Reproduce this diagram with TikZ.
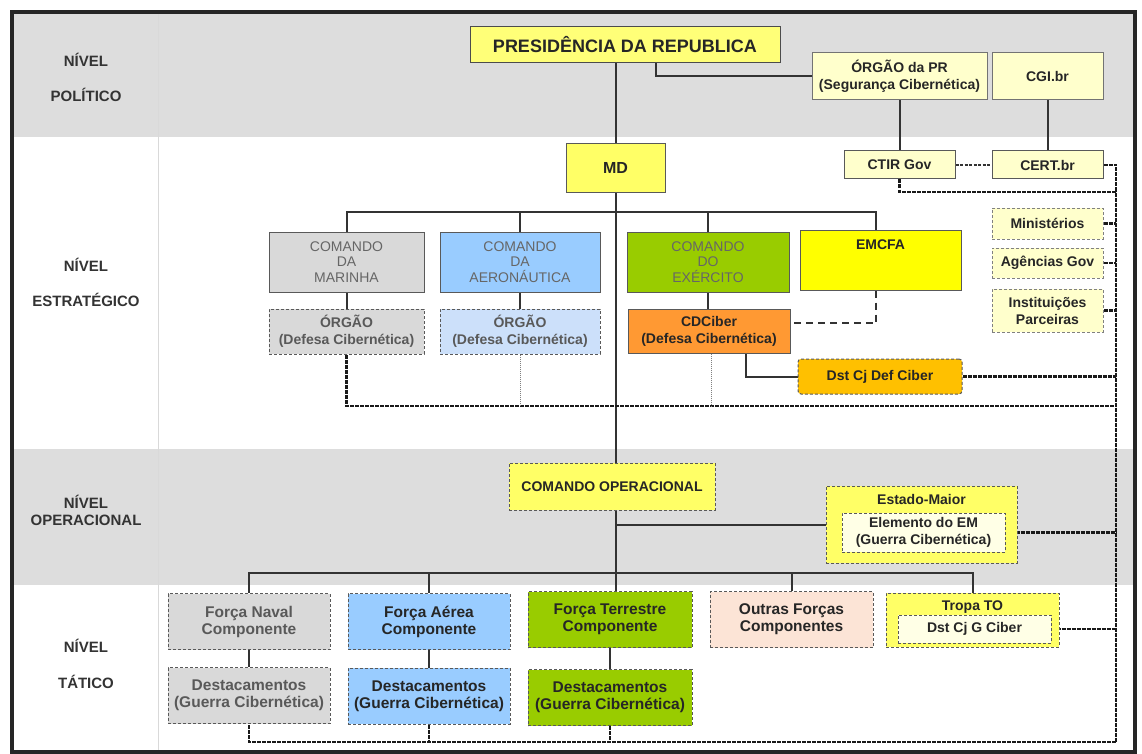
\documentclass[tikz,border=0pt]{standalone}
\usepackage{fontspec}
\setmainfont{Liberation Sans}
\usetikzlibrary{positioning, calc}
\pgfdeclarelayer{bg}
\pgfsetlayers{bg,main}

\definecolor{bandgray}{RGB}{221,221,221}
\definecolor{pryellow}{RGB}{255,255,120}
\definecolor{cream}{RGB}{255,255,204}
\definecolor{mdyellow}{RGB}{255,255,102}
\definecolor{marinha}{RGB}{217,217,217}
\definecolor{aero}{RGB}{153,204,255}
\definecolor{aerolight}{RGB}{204,224,250}
\definecolor{exercito}{RGB}{153,204,0}
\definecolor{emyellow}{RGB}{255,255,0}
\definecolor{ciberorange}{RGB}{255,153,51}
\definecolor{dstorange}{RGB}{255,192,0}
\definecolor{peach}{RGB}{252,228,214}
\definecolor{lightcream}{RGB}{255,255,230}

\newcommand{\boxfont}{\bfseries\fontsize{14}{17}\selectfont}

\begin{document}
\begin{tikzpicture}[x=1pt, y=-1pt,
    box/.style={draw=black!65, line width=1pt, inner sep=1pt, align=center, text=black!85, font=\boxfont},
    dbox/.style={box, dash pattern=on 3pt off 2pt},
    cmd/.style={box, font=\fontsize{14}{15.5}\selectfont, text=black!60, minimum height=60},
    tac/.style={dbox, minimum width=162, minimum height=56, font=\bfseries\fontsize{15.5}{17}\selectfont},
    toplabel/.style={font=\boxfont, text=black!85, anchor=north, inner sep=3pt},
    lvl/.style={font=\bfseries\fontsize{15}{17}\selectfont, text=black!80, align=center},
    link/.style={draw=black!80, line width=2pt},
    net/.style={draw=black!90, line width=2.2pt, dash pattern=on 4pt off 1pt},
    thinnet/.style={draw=black!50, line width=1pt, densely dotted},
    shortdash/.style={draw=black!80, line width=2pt, dash pattern=on 3pt off 1.5pt},
    coorddash/.style={draw=black!80, line width=2.2pt, dash pattern=on 7pt off 5pt}
]
    \useasboundingbox (0,0) rectangle (1142,754);

    % level labels
    \node[lvl] (lpol) at (86,77) {NÍVEL\\[18pt]POLÍTICO};
    \node[lvl] (lest) at (86,282) {NÍVEL\\[18pt]ESTRATÉGICO};
    \node[lvl] (lope) at (86,510) {NÍVEL\\OPERACIONAL};
    \node[lvl] (ltat) at (86,664) {NÍVEL\\[19pt]TÁTICO};

    % nivel politico
    \node[box, fill=pryellow, draw=black!70, minimum width=310, minimum height=36,
          font=\bfseries\fontsize{18}{20}\selectfont] (pr) at (625,45) {PRESIDÊNCIA DA REPUBLICA};
    \node[box, fill=cream, draw=black!55, minimum width=175, minimum height=47] (orgpr) at (899.5,76.5)
        {ÓRGÃO da PR\\(Segurança Cibernética)};
    \node[box, fill=cream, draw=black!55, minimum width=111, minimum height=47] (cgi) at (1047.5,76.5) {CGI.br};

    % nivel estrategico
    \node[box, fill=mdyellow, minimum width=99, minimum height=48,
          font=\bfseries\fontsize{16}{18}\selectfont] (md) at (615.5,168) {MD};
    \node[box, fill=cream, minimum width=111, minimum height=28] (ctir) at (899.5,165) {CTIR Gov};
    \node[box, fill=cream, minimum width=111, minimum height=28] (cert) at (1047.5,165) {CERT.br};
    \node[dbox, fill=cream, draw=black!50, minimum width=111, minimum height=31] (min) at (1047.5,223.5) {Ministérios};
    \node[dbox, fill=cream, draw=black!50, minimum width=111, minimum height=30] (agen) at (1047.5,263) {Agências Gov};
    \node[dbox, fill=cream, draw=black!50, minimum width=111, minimum height=43] (inst) at (1047.5,310.5)
        {Instituições\\Parceiras};

    \node[cmd, fill=marinha, minimum width=155] (mar) at (346.5,262) {COMANDO\\DA\\MARINHA};
    \node[cmd, fill=aero, minimum width=160] (aer) at (520,262) {COMANDO\\DA\\AERONÁUTICA};
    \node[cmd, fill=exercito, minimum width=162] (exe) at (708,262) {COMANDO\\DO\\EXÉRCITO};
    \node[box, fill=emyellow, minimum width=161, minimum height=60,
          label={[toplabel, yshift=-7pt]north:EMCFA}] (emcfa) at (880.5,260) {};

    \node[dbox, fill=marinha, text=black!65, minimum width=155, minimum height=45] (orgmar) at (346.5,331.5)
        {ÓRGÃO\\(Defesa Cibernética)};
    \node[dbox, fill=aerolight, text=black!65, minimum width=160, minimum height=45] (orgaer) at (520,331.5)
        {ÓRGÃO\\(Defesa Cibernética)};
    \node[box, fill=ciberorange, minimum width=162, minimum height=44] (cdciber) at (709,331)
        {CDCiber\\(Defesa Cibernética)};
    \node[dbox, fill=dstorange, rounded corners=3pt, minimum width=164, minimum height=35] (dstdef) at (880,376.5)
        {Dst Cj Def Ciber};

    % nivel operacional
    \node[dbox, fill=mdyellow, minimum width=206, minimum height=47] (coop) at (612,486.5) {COMANDO OPERACIONAL};
    \node[dbox, fill=mdyellow, minimum width=191, minimum height=77,
          label={[toplabel, yshift=-6pt]north:Estado-Maior}] (em) at (921.5,524.5) {};
    \node[dbox, fill=lightcream, minimum width=163, minimum height=39] (elem) at (923.5,532.5)
        {Elemento do EM\\(Guerra Cibernética)};

    % nivel tatico
    \node[tac, fill=marinha, text=black!65] (naval) at (249,621.5) {Força Naval\\Componente};
    \node[tac, fill=aero] (aerea) at (429,621.5) {Força Aérea\\Componente};
    \node[tac, fill=exercito, minimum width=164] (terr) at (610,619.5) {Força Terrestre\\Componente};
    \node[tac, fill=peach, minimum width=163] (outras) at (791.5,619.5) {Outras Forças\\Componentes};
    \node[dbox, fill=mdyellow, minimum width=173, minimum height=54,
          label={[toplabel, yshift=-5pt]north:Tropa TO}] (tropa) at (972.5,620) {};
    \node[dbox, fill=lightcream, minimum width=153, minimum height=28] (dstg) at (974.5,629) {Dst Cj G Ciber};

    \node[tac, fill=marinha, text=black!65] (dnav) at (249,695.5) {Destacamentos\\(Guerra Cibernética)};
    \node[tac, fill=aero] (daer) at (429,696) {Destacamentos\\(Guerra Cibernética)};
    \node[tac, fill=exercito, minimum width=164] (dter) at (610,697.5) {Destacamentos\\(Guerra Cibernética)};

    \coordinate (sb) at (0,212);
    \coordinate (sdb) at (0,406);
    \coordinate (tb) at (0,573);
    \coordinate (emx) at (876,0);
    \coordinate (rtop) at (1116,165);
    \coordinate (rbot) at (1116,742);
    \coordinate (ctirbus) at (1116,192);

    \begin{pgfonlayer}{bg}
        % bands and frame
        \fill[bandgray] (13,13) rectangle (1134,137);
        \fill[bandgray] (13,449) rectangle (1134,585);
        \draw[black!15, line width=1pt] (158,13) -- (158,751);

        % solid hierarchy
        \draw[link] (pr.south -| md) -- (coop.north -| md);
        \draw[link] (coop.south -| md) -- (terr.north -| md);
        \draw[link] ([xshift=31pt]pr.south) |- (orgpr.west);
        \draw[link] (orgpr.south) -- (ctir.north);
        \draw[link] (cgi.south) -- (cert.north);
        \draw[link] (mar.north) |- (emx |- sb) -- (emx |- emcfa.north);
        \foreach \n in {aer, exe}
            \draw[link] (\n.north) -- (\n.north |- sb);
        \draw[link] (mar.south) -- (orgmar.north);
        \draw[link] (aer.south) -- (orgaer.north);
        \draw[link] (exe.south) -- (exe.south |- cdciber.north);
        \draw[link] ([xshift=37pt]cdciber.south) |- (dstdef.west);
        \draw[link] (em.west -| md) -- (em.west);
        \draw[link] (naval.north) |- (tropa.north |- tb) -- (tropa.north);
        \foreach \n in {aerea, outras}
            \draw[link] (\n.north) -- (\n.north |- tb);
        \foreach \a/\b in {naval/dnav, aerea/daer, terr/dter}
            \draw[link] (\a.south) -- (\a.south |- \b.north);

        % coordination
        \draw[shortdash] (ctir.east) -- (cert.west);
        \draw[coorddash] (emx |- emcfa.south) |- ([yshift=8pt]cdciber.east);

        % cyber network
        \draw[net] (cert.east) -- (rtop) -- (rbot) -- (dnav.south |- rbot) -- (dnav.south);
        \draw[net] (ctir.south) |- (ctirbus);
        \foreach \n in {min, agen, inst, dstdef, elem, dstg}
            \draw[net] (\n.east) -- (\n.east -| rtop);
        \draw[net] (orgmar.south) |- (sdb -| rtop);
        \draw[thinnet] (orgaer.south) -- (orgaer.south |- sdb);
        \draw[thinnet] ([xshift=2pt]cdciber.south) -- ([xshift=2pt]cdciber.south |- sdb);
        \foreach \n in {daer, dter}
            \draw[net] (\n.south) -- (\n.south |- rbot);
    \end{pgfonlayer}

    \draw[black!85, line width=3.5pt] (12,12) rectangle (1135,752);
\end{tikzpicture}
\end{document}
